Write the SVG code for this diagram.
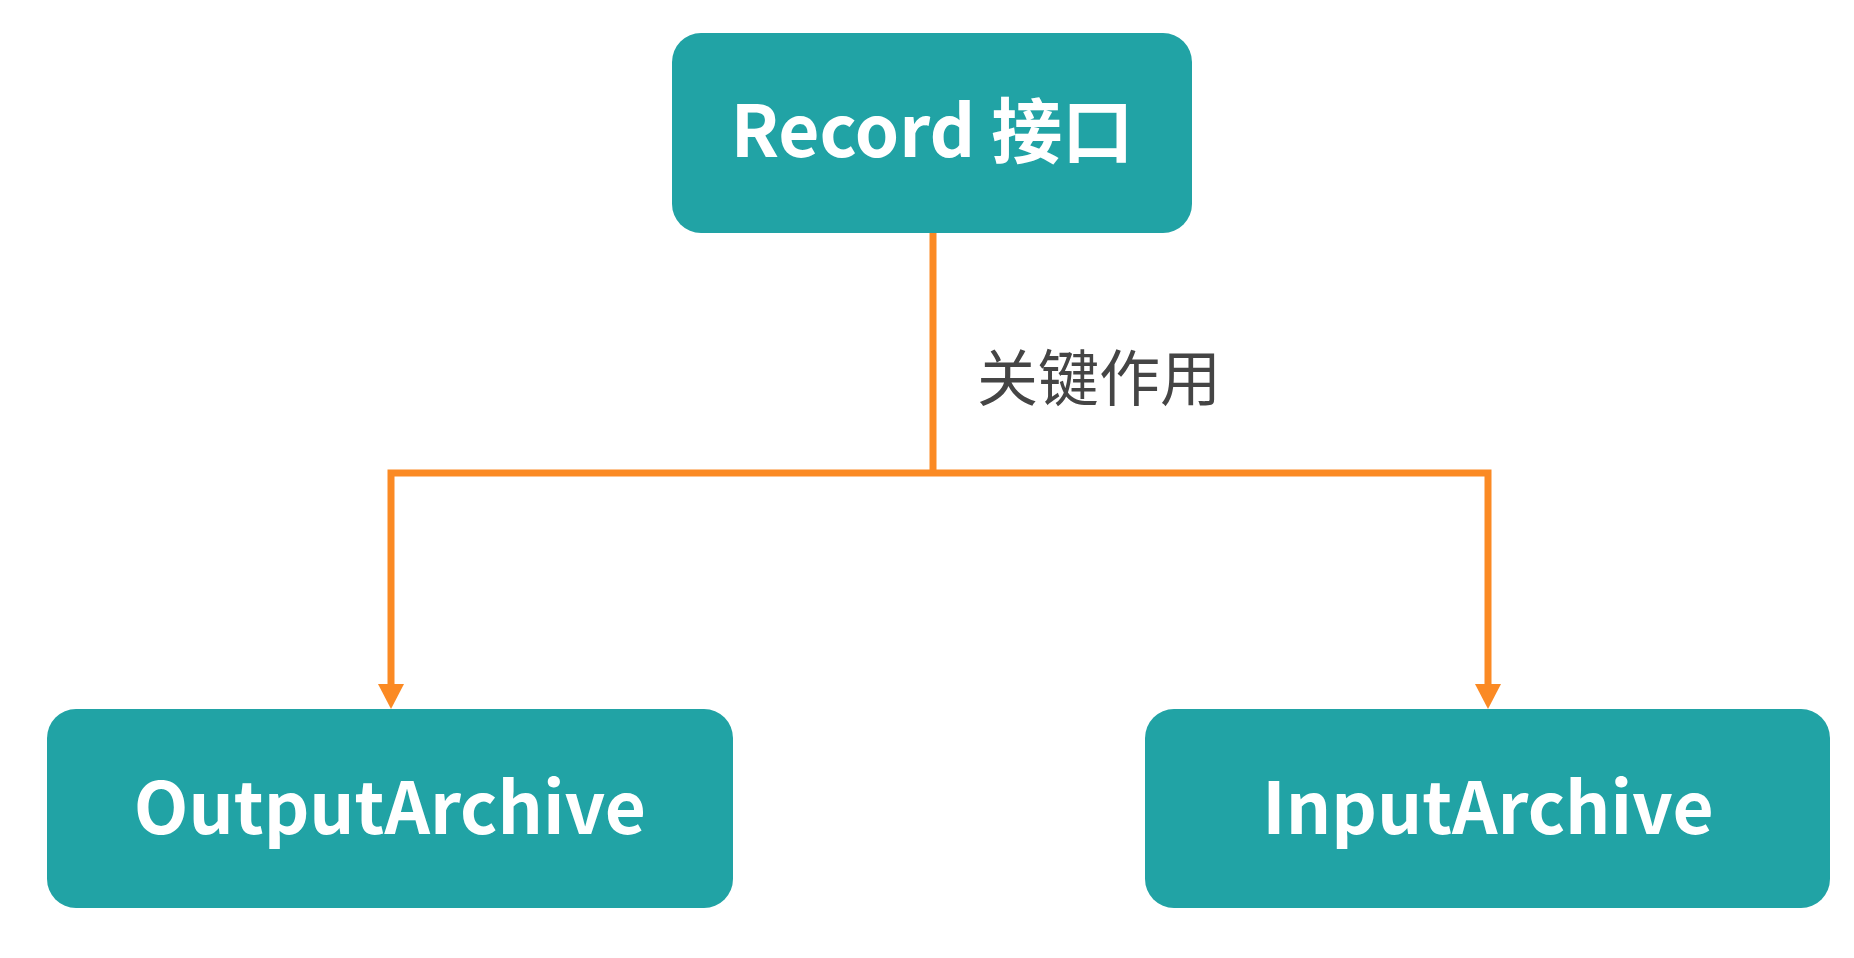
<svg xmlns="http://www.w3.org/2000/svg" width="1854" height="958" viewBox="0 0 1854 958">
  <style>
    .box { fill: #21a3a5; }
    .title { font-family: "Noto Sans CJK SC", "Noto Sans", sans-serif; font-weight: 700; font-size: 71px; fill: #ffffff; text-anchor: middle; }
    .wire { fill: none; stroke: #fb8a24; stroke-width: 7; stroke-linejoin: miter; }
    .head { fill: #fb8a24; }
    .note { font-family: "Noto Sans CJK SC", "Noto Sans", sans-serif; font-size: 61px; fill: #454545; }
  </style>
  <rect width="1854" height="958" fill="#ffffff"/>

  <g id="connectors">
    <path class="wire" d="M933,233 V473"/>
    <path class="wire" d="M933,473 H391 V688"/>
    <path class="wire" d="M933,473 H1488 V688"/>
    <polygon class="head" points="378,684 404,684 391,709"/>
    <polygon class="head" points="1475,684 1501,684 1488,709"/>
    <text class="note" x="977" y="401">关键作用</text>
  </g>

  <g id="record">
    <rect class="box" x="672" y="33" width="520" height="200" rx="29"/>
    <text class="title" x="932" y="157">Record 接口</text>
  </g>

  <g id="output-archive">
    <rect class="box" x="47" y="709" width="686" height="199" rx="29"/>
    <text class="title" x="390" y="834">OutputArchive</text>
  </g>

  <g id="input-archive">
    <rect class="box" x="1145" y="709" width="685" height="199" rx="29"/>
    <text class="title" x="1488" y="834">InputArchive</text>
  </g>
</svg>
